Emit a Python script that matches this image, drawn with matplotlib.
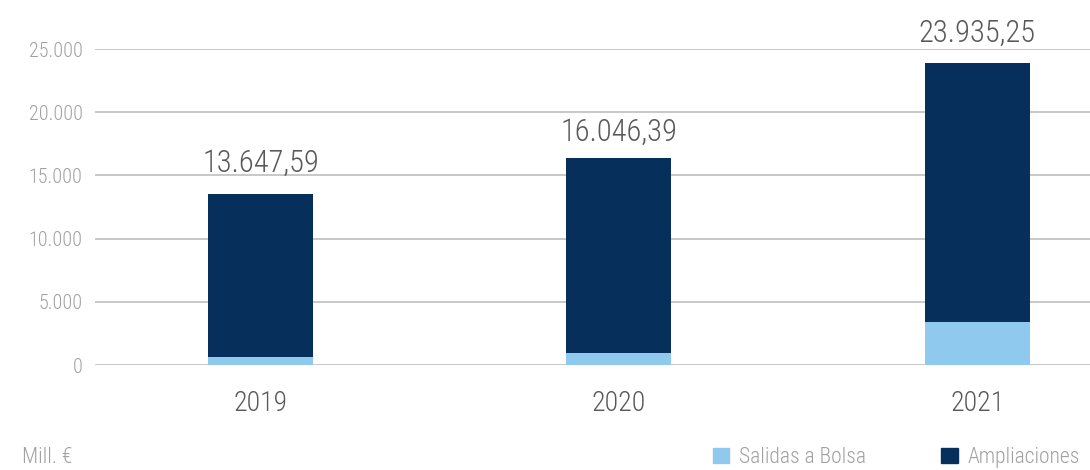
import matplotlib.pyplot as plt
from matplotlib.patches import Patch

plt.rcParams['font.family'] = ['Roboto Condensed', 'DejaVu Sans']
plt.rcParams['font.weight'] = 300

# data (Mill. €)
years = ["2019", "2020", "2021"]
salidas = [610, 930, 3430]
ampliaciones = [12930, 15440, 20450]
totals = [13647.59, 16046.39, 23935.25]
totals_txt = ["13.647,59", "16.046,39", "23.935,25"]
yticks = [0, 5000, 10000, 15000, 20000, 25000]
ytick_labels = ["0", "5.000", "10.000", "15.000", "20.000", "25.000"]

c_light = "#8fc9ee"
c_dark = "#06305b"

fig = plt.figure(figsize=(10.9, 4.7), dpi=100)
ax = fig.add_axes([0.0872, 0.2234, 0.9128, 0.6723])

x = list(range(len(years)))
ax.bar(x, salidas, width=0.293, color=c_light, zorder=3)
ax.bar(x, ampliaciones, width=0.293, bottom=salidas, color=c_dark, zorder=3)

# total labels above the bars
for i in x:
    ax.text(i, totals[i] + 1650, totals_txt[i], ha="center", va="baseline",
            fontsize=22, color="#595959", clip_on=False)

ax.set_xlim(-0.462, 2.315)
ax.set_ylim(0, 25000)
ax.set_yticks(yticks)
ax.set_yticklabels(ytick_labels)
ax.set_xticks(x)
ax.set_xticklabels(years)
ax.grid(True, axis="y", color="#c8c8c8", linewidth=1.4, zorder=0)
ax.tick_params(axis="y", length=0, pad=9, labelsize=14.5, labelcolor="#a0a0a0")
ax.tick_params(axis="x", length=0, pad=18, labelsize=20, labelcolor="#595959")
for s in ax.spines.values():
    s.set_visible(False)
ax.axhline(0, color="#c8c8c8", linewidth=1.4, zorder=1)

fig.text(22 / 1090, 7 / 470, "Mill. €", fontsize=15.5, color="#a0a0a0",
         va="baseline")
handles = [Patch(color=c_light, label="Salidas a Bolsa"),
           Patch(color=c_dark, label="Ampliaciones")]
fig.legend(handles=handles, loc="lower right", bbox_to_anchor=(1080 / 1090, 2 / 470),
           ncol=2, frameon=False, fontsize=15.5, labelcolor="#a0a0a0",
           borderpad=0, borderaxespad=0,
           handlelength=0.75, handleheight=0.7, handletextpad=0.47, columnspacing=3.5)

fig.savefig("out.png", dpi=100)
